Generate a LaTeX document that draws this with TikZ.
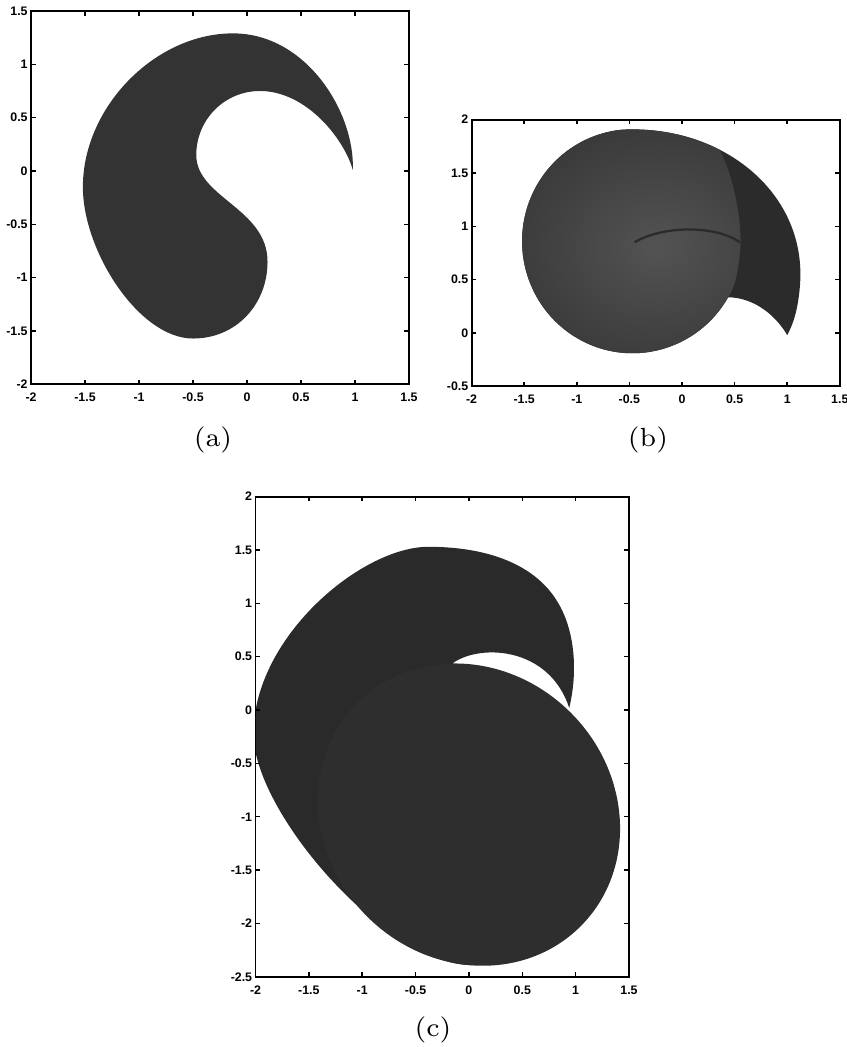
\documentclass[tikz,border=0pt]{standalone}
\usepackage{fontspec}
\newfontfamily\tickfont{Liberation Sans}
\definecolor{fillA}{HTML}{333333}
\definecolor{rimB}{HTML}{2B2B2B}
\definecolor{discIn}{HTML}{535353}
\definecolor{discOut}{HTML}{3A3A3A}
\definecolor{bodyC}{HTML}{2A2A2A}
\definecolor{ellC}{HTML}{2E2E2E}
\begin{document}
\begin{tikzpicture}[
  frame/.style={line width=.5pt},
  tk/.style={line width=.4pt},
  ylab/.style={anchor=east,inner sep=0pt,font=\tickfont\bfseries\fontsize{3.3}{4}\selectfont},
  xlab/.style={anchor=north,inner sep=0pt,font=\tickfont\bfseries\fontsize{3.3}{4}\selectfont},
  caption/.style={font=\fontsize{7}{8}\selectfont}]
\useasboundingbox (0,0) rectangle (7.938,9.813);

% (a)
\begin{scope}[shift={(2.315,8.210)},xscale=1.012]
\fill [fillA] (0.98,0.01) .. controls (1.0,0.55) and (0.55,1.29) .. (-0.13,1.29)
  .. controls (-0.85,1.29) and (-1.52,0.6) .. (-1.52,-0.15)
  .. controls (-1.52,-0.75) and (-1.0,-1.57) .. (-0.5,-1.57)
  .. controls (-0.1,-1.57) and (0.19,-1.25) .. (0.19,-0.85)
  .. controls (0.19,-0.35) and (-0.47,-0.25) .. (-0.47,0.15)
  .. controls (-0.47,0.48) and (-0.21,0.75) .. (0.12,0.75)
  .. controls (0.55,0.75) and (0.9,0.3) .. (0.98,0.01) -- cycle;
\draw [frame] (-2,-2) rectangle (1.5,1.5);
\foreach \t [count=\k] in {-2,-1.5,-1,-0.5,0,0.5,1,1.5}{
  \draw [tk] (\t,-2) -- ++(0,.045) (\t,1.5) -- ++(0,-.045);
  \node [xlab] (ax\k) at (\t,-2.07) {\t};}
\foreach \t [count=\k] in {-2,-1.5,-1,-0.5,0,0.5,1,1.5}{
  \draw [tk] (-2,\t) -- ++(.045,0) (1.5,\t) -- ++(-.045,0);
  \node [ylab] (ay\k) at (-2.025,\t) {\t};}
\end{scope}
\node [caption] (capA) at (1.996,5.689) {(a)};

% (b)
\begin{scope}[shift={(6.392,6.692)},xscale=.986]
\fill [rimB] (0.439,0.335) arc[start angle=-30,end angle=-265,radius=1.05]
  .. controls (0.4,1.95) and (1.2,1.3) .. (1.12,0.43)
  .. controls (1.1,0.2) and (1.05,0.07) .. (1.0,-0.02)
  .. controls (0.9,0.15) and (0.7,0.33) .. (0.439,0.335) -- cycle;
\begin{scope}
\clip (0.358,1.717) .. controls (0.5,1.45) and (0.58,1.0) .. (0.55,0.75)
  .. controls (0.53,0.55) and (0.5,0.42) .. (0.439,0.335) -- (0.439,-0.5) -- (-2,-0.5) -- (-2,2.1) -- (0.358,2.1) -- cycle;
\shade [inner color=discIn,outer color=discOut] (0.439,0.335) arc[start angle=-30,end angle=-265,radius=1.05]
  .. controls (0.4,1.95) and (1.2,1.3) .. (1.12,0.43) -- (0.439,0.335) -- cycle;
\end{scope}
\draw [rimB,line width=.6pt] (-0.45,0.85) .. controls (-0.2,1.0) and (0.3,1.02) .. (0.55,0.85);
\draw [frame] (-2,-0.5) rectangle (1.5,2);
\foreach \t [count=\k] in {-2,-1.5,-1,-0.5,0,0.5,1,1.5}{
  \draw [tk] (\t,-0.5) -- ++(0,.045) (\t,2) -- ++(0,-.045);
  \node [xlab] (bx\k) at (\t,-0.57) {\t};}
\foreach \t [count=\k] in {-0.5,0,0.5,1,1.5,2}{
  \draw [tk] (-2,\t) -- ++(.045,0) (1.5,\t) -- ++(-.045,0);
  \node [ylab] (by\k) at (-2.025,\t) {\t};}
\end{scope}
\node [caption] (capB) at (6.073,5.689) {(b)};

% (c)
\begin{scope}[shift={(4.395,3.158)}]
\begin{scope}
\clip (-2,-2.5) rectangle (1.5,2);
\fill [bodyC] (-0.15,0.44) .. controls (0.1,0.62) and (0.75,0.6) .. (0.94,0.02)
  .. controls (1.02,0.35) and (1.0,0.75) .. (0.82,1.03)
  .. controls (0.62,1.35) and (0.2,1.53) .. (-0.38,1.53)
  .. controls (-1.0,1.53) and (-2.0,0.7) .. (-2.02,-0.2)
  .. controls (-2.04,-0.95) and (-0.75,-2.42) .. (0.05,-2.39) -- (0,-1) -- cycle;
\fill [ellC,rotate around={-45:(0,-0.98)}] (0,-0.98) ellipse (1.48 and 1.35);
\end{scope}
\draw [frame] (-2,-2.5) rectangle (1.5,2);
\foreach \t [count=\k] in {-2,-1.5,-1,-0.5,0,0.5,1,1.5}{
  \draw [tk] (\t,-2.5) -- ++(0,.045) (\t,2) -- ++(0,-.045);
  \node [xlab] (cx\k) at (\t,-2.58) {\t};}
\foreach \t [count=\k] in {-2.5,-2,-1.5,-1,-0.5,0,0.5,1,1.5,2}{
  \draw [tk] (-2,\t) -- ++(.045,0) (1.5,\t) -- ++(-.045,0);
  \node [ylab] (cy\k) at (-2.025,\t) {\t};}
\end{scope}
\node [caption] (capC) at (4.058,0.159) {(c)};
\end{tikzpicture}
\end{document}
